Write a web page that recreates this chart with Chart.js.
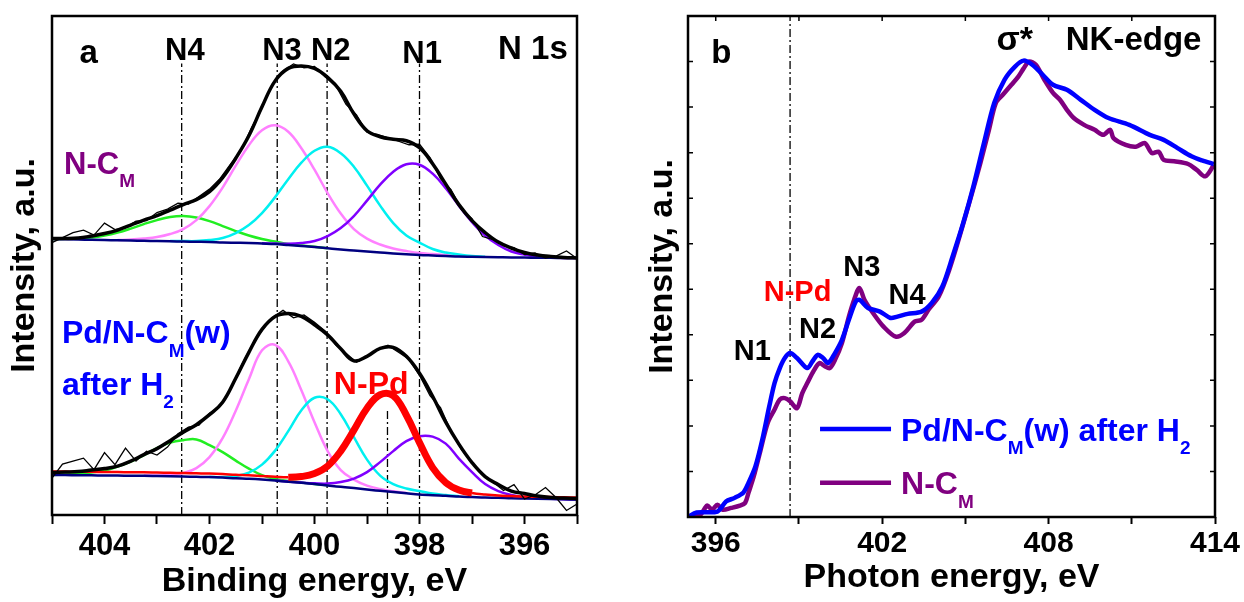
<!DOCTYPE html>
<html>
<head>
<meta charset="utf-8">
<title>N 1s XPS and N K-edge NEXAFS</title>
<script src="https://cdn.jsdelivr.net/npm/chart.js@4.4.1/dist/chart.umd.min.js"></script>
<style>
  html, body { margin: 0; padding: 0; background: #fff; }
  #wrap { position: relative; width: 1244px; height: 602px; }
  .panel { position: absolute; top: 0; height: 602px; width: 622px; }
  #panelA { left: 0; }
  #panelB { left: 622px; }
</style>
</head>
<body>
<div id="wrap">
  <div class="panel" id="panelA"><canvas id="xps"></canvas></div>
  <div class="panel" id="panelB"><canvas id="nexafs"></canvas></div>
</div>
<script>
"use strict";

// ---- panel a : N 1s XPS (binding energy, eV / intensity, a.u.) ----
const bindingGrid = [405, 404.75, 404.5, 404.25, 404, 403.75, 403.5, 403.25, 403, 402.75, 402.5, 402.25, 402, 401.75, 401.5, 401.25, 401, 400.75, 400.5, 400.25, 400, 399.75, 399.5, 399.25, 399, 398.75, 398.5, 398.25, 398, 397.75, 397.5, 397.25, 397, 396.75, 396.5, 396.25, 396, 395.75, 395.5, 395.25, 395];

// N-C_M (upper spectrum)
const ncmBackground = [55.3, 55.25, 55.2, 55.15, 55.1, 55.05, 55.0, 54.95, 54.9, 54.85, 54.8, 54.75, 54.7, 54.6, 54.55, 54.5, 54.4, 54.3, 54.1, 53.9, 53.7, 53.45, 53.2, 53.0, 52.8, 52.6, 52.4, 52.25, 52.1, 52.0, 51.9, 51.8, 51.75, 51.7, 51.65, 51.6, 51.6, 51.55, 51.55, 51.5, 51.5];
const ncmN4 = [55.3, 55.35, 55.4, 55.6, 56.0, 56.6, 57.4, 58.3, 59.1, 59.7, 59.9, 59.6, 58.9, 57.9, 56.9, 56.0, 55.3, 54.8, 54.3, 54.0, 53.75, 53.45, null, null, null, null, null, null, null, null, null, null, null, null, null, null, null, null, null, null, null];
const ncmN3 = [null, null, null, null, null, 55.1, 55.2, 55.4, 55.7, 56.3, 57.3, 59.1, 61.9, 65.6, 70.0, 74.1, 77.1, 78.1, 76.8, 73.5, 69.2, 64.5, 60.4, 57.3, 55.4, 54.2, 53.4, 52.9, 52.5, 52.3, 52.1, 51.9, 51.8, null, null, null, null, null, null, null, null];
const ncmN2 = [null, null, null, null, null, null, null, null, null, 54.9, 54.9, 54.9, 55.1, 55.5, 56.5, 58.1, 60.5, 63.7, 67.3, 70.6, 73.0, 73.8, 72.5, 69.8, 66.0, 62.0, 58.5, 56.0, 54.6, 53.3, 52.6, 52.2, 51.9, 51.75, null, null, null, null, null, null, null];
const ncmN1 = [null, null, null, null, null, null, null, null, null, null, null, null, null, null, null, null, 54.45, 54.4, 54.35, 54.5, 54.9, 55.9, 57.5, 59.9, 63.0, 66.2, 68.8, 70.3, 70.2, 68.4, 65.5, 62.0, 58.7, 56.0, 54.1, 52.8, 52.2, 51.8, 51.6, 51.5, 51.5];
const ncmEnvelope = [55.4, 55.4, 55.5, 55.9, 56.4, 57.1, 58.1, 59.1, 60.0, 61.1, 62.2, 63.2, 64.8, 67.6, 71.5, 76.0, 81.8, 87.0, 89.5, 90.0, 89.5, 87.7, 84.9, 80.4, 77.0, 75.8, 75.3, 75.0, 73.6, 70.4, 66.3, 62.2, 59.0, 56.6, 54.7, 53.5, 52.6, 52.1, 51.8, 51.6, 51.5];

// Pd/N-C_M(w) after H2 (lower spectrum)
const pdBackground = [8.0, 8.0, 7.95, 7.95, 7.9, 7.9, 7.85, 7.85, 7.8, 7.75, 7.7, 7.65, 7.6, 7.5, 7.35, 7.25, 7.1, 6.9, 6.65, 6.45, 6.2, 5.9, 5.65, 5.4, 5.1, 4.85, 4.6, 4.35, 4.1, 3.95, 3.85, 3.7, 3.6, 3.5, 3.45, 3.35, 3.3, 3.25, 3.2, 3.15, 3.1];
const pdN4 = [8.0, 8.1, 8.2, 8.5, 8.9, 9.7, 10.7, 12.0, 13.4, 14.5, 15.0, 15.15, 14.0, 12.6, 10.9, 9.3, 8.0, 7.2, 6.8, 6.5, 6.2, 5.95, null, null, null, null, null, null, null, null, null, null, null, null, null, null, null, null, null, null, null];
const pdN3 = [null, null, null, null, null, null, null, 7.9, 7.9, 8.0, 8.4, 9.4, 11.6, 15.4, 20.9, 27.2, 33.0, 34.1, 30.8, 25.0, 18.6, 12.8, 9.0, 7.1, 5.9, 5.2, 4.75, 4.4, null, null, null, null, null, null, null, null, null, null, null, null, null];
const pdN2 = [null, null, null, null, null, null, null, null, null, null, null, null, 7.6, 7.6, 7.8, 8.5, 10.1, 12.9, 16.8, 21.0, 23.5, 23.2, 20.2, 15.6, 11.1, 7.9, 6.2, 5.3, 4.8, 4.3, 4.0, 3.75, null, null, null, null, null, null, null, null, null];
const pdNPd = [8.7, 8.7, 8.65, 8.65, 8.6, 8.6, 8.55, 8.55, 8.5, 8.45, 8.4, 8.35, 8.3, 8.2, 8.05, 7.95, 7.8, 7.65, 7.55, 7.7, 8.3, 9.8, 12.8, 17.0, 21.4, 24.1, 23.9, 20.0, 14.5, 9.5, 6.5, 5.0, 4.4, 4.1, 3.9, 3.8, 3.7, 3.65, 3.6, 3.55, 3.5];
const pdN1 = [null, null, null, null, null, null, null, null, null, null, null, null, null, null, null, null, null, 6.9, 6.7, 6.5, 6.35, 6.3, 6.6, 7.3, 8.6, 10.6, 12.8, 14.8, 15.8, 15.7, 14.3, 11.3, 8.6, 6.2, 4.8, 4.0, 3.6, 3.4, 3.25, 3.15, 3.1];
const pdEnvelope = [8.5, 8.6, 8.7, 9.0, 9.3, 9.8, 10.8, 12.1, 13.3, 14.9, 16.6, 18.1, 20.1, 22.6, 27.4, 32.6, 37.2, 39.8, 40.4, 39.8, 38.1, 36.1, 33.3, 30.9, 31.8, 33.4, 33.6, 31.8, 28.4, 23.8, 18.6, 14.2, 10.5, 7.7, 6.1, 4.8, 4.3, 3.8, 3.5, 3.4, 3.3];

// measured (noisy) points
const rawGrid = [405, 404.8, 404.6, 404.4, 404.2, 404, 403.8, 403.6, 403.4, 403.2, 403, 402.8, 402.6, 402.4, 402.2, 402, 401.8, 401.6, 401.4, 401.2, 401, 400.8, 400.6, 400.4, 400.2, 400, 399.8, 399.6, 399.4, 399.2, 399, 398.8, 398.6, 398.4, 398.2, 398, 397.8, 397.6, 397.4, 397.2, 397, 396.8, 396.6, 396.4, 396.2, 396, 395.8, 395.6, 395.4, 395.2, 395];
const ncmRaw = [54.6, 55.6, 56.6, 57.1, 56.1, 58.5, 57.2, 57.6, 58.9, 59.0, 60.6, 61.3, 62.5, 62.3, 63.8, 65.3, 67.4, 70.3, 73.0, 77.6, 81.5, 86.4, 89.0, 90.4, 89.6, 89.9, 87.8, 86.2, 82.3, 80.2, 76.7, 76.3, 75.6, 74.9, 74.2, 74.3, 71.6, 67.4, 65.2, 61.2, 59.4, 55.8, 55.2, 54.0, 53.6, 52.2, 52.5, 51.5, 51.9, 52.9, 51.4];
const pdRaw = [7.4, 10.2, 10.8, 11.4, 9.1, 12.5, 10.1, 13.4, 10.8, 12.8, 12.0, 13.6, 16.3, 17.6, 18.0, 20.4, 21.8, 25.2, 29.8, 33.9, 37.0, 39.6, 41.0, 39.5, 40.1, 38.6, 36.9, 34.1, 32.4, 30.6, 31.7, 33.2, 34.0, 32.6, 31.2, 28.0, 23.9, 21.5, 16.8, 13.1, 10.4, 8.0, 6.6, 4.9, 6.1, 3.2, 4.0, 5.5, 3.5, 0.9, 2.2];

// N4, N3, N2, N1 positions and the N-Pd position
const peakLineEnergies = [402.53, 400.71, 399.76, 398.0];
const peakLineTop = 90.5;
const nPdLineEnergy = 398.61;
const nPdLineTop = 21.4;
// energy span where the N-Pd component is drawn thick
const nPdPeakSpan = [396.8, 400.5];

const bindingTicks = [405, 404, 403, 402, 401, 400, 399, 398, 397, 396, 395];
const bindingTickLabels = [404, 402, 400, 398, 396];

// ---- panel b : N K-edge (photon energy, eV / intensity, a.u.) ----
const pdH2Energy = [395.0, 395.31, 396.06, 396.37, 396.68, 397.0, 397.18, 397.43, 397.68, 397.93, 398.12, 398.31, 398.49, 398.68, 398.93, 399.3, 399.49, 399.68, 399.87, 400.05, 400.3, 400.55, 400.8, 401.05, 401.18, 401.49, 401.92, 402.3, 402.55, 402.92, 403.42, 403.79, 404.17, 404.54, 404.92, 405.29, 405.67, 406.04, 406.41, 406.79, 407.1, 407.41, 407.79, 408.16, 408.66, 409.16, 409.66, 410.16, 410.91, 411.65, 412.15, 412.65, 413.15, 413.53, 413.96];
const pdH2Intensity = [0.0, 0.1, 0.12, 0.34, 0.42, 0.54, 0.75, 1.11, 1.7, 2.43, 2.94, 3.27, 3.49, 3.6, 3.49, 3.27, 3.42, 3.56, 3.49, 3.38, 3.6, 3.89, 4.33, 4.73, 4.77, 4.59, 4.51, 4.37, 4.4, 4.46, 4.51, 4.7, 5.06, 5.72, 6.45, 7.26, 8.21, 9.09, 9.6, 9.89, 10.02, 9.93, 9.71, 9.49, 9.38, 9.16, 8.94, 8.76, 8.61, 8.39, 8.28, 8.1, 7.92, 7.83, 7.75];
const ncmEnergy = [395.0, 395.44, 395.69, 395.87, 396.06, 396.25, 396.56, 396.87, 397.06, 397.18, 397.37, 397.62, 397.87, 398.12, 398.31, 398.49, 398.68, 398.93, 399.12, 399.3, 399.55, 399.74, 399.93, 400.11, 400.3, 400.55, 400.8, 400.99, 401.18, 401.36, 401.67, 402.05, 402.49, 402.8, 403.17, 403.42, 403.67, 404.04, 404.42, 404.79, 405.17, 405.54, 405.85, 406.1, 406.35, 406.66, 406.91, 407.1, 407.29, 407.54, 407.85, 408.16, 408.41, 408.66, 408.91, 409.28, 409.66, 409.97, 410.22, 410.34, 410.78, 411.15, 411.47, 411.72, 411.97, 412.15, 412.53, 413.03, 413.34, 413.65, 413.96];
const ncmIntensity = [0.0, 0.05, 0.25, 0.16, 0.27, 0.16, 0.2, 0.25, 0.31, 0.53, 0.89, 1.48, 2.06, 2.36, 2.58, 2.61, 2.54, 2.39, 2.72, 2.94, 3.23, 3.38, 3.31, 3.27, 3.45, 3.82, 4.4, 4.77, 5.03, 4.77, 4.48, 4.18, 3.96, 4.04, 4.29, 4.33, 4.55, 4.84, 5.43, 6.16, 6.96, 7.77, 8.5, 9.09, 9.27, 9.49, 9.67, 9.85, 10.0, 9.93, 9.6, 9.31, 9.16, 8.94, 8.76, 8.61, 8.5, 8.39, 8.5, 8.32, 8.17, 8.13, 8.21, 7.99, 8.02, 7.84, 7.81, 7.75, 7.62, 7.48, 7.73];

const nPdPhotonEnergy = 398.68;
const photonTicks = [396, 399, 402, 405, 408, 411, 414];
const photonTickLabels = [396, 402, 408, 414];
const nexafsYTicks = [0, 1, 2, 3, 4, 5, 6, 7, 8, 9, 10, 11];

// ---- styling ----
const FONT = '"Liberation Sans", Arial, Helvetica, sans-serif';
Chart.defaults.font.family = FONT;
Chart.defaults.font.weight = 'bold';
Chart.defaults.color = '#000';

const xpsNotes = [
  { segs: [{ t: 'a' }], x: 404.3, y: 93.0, size: 33, color: '#000', align: 'center' },
  { segs: [{ t: 'N4' }], x: 402.47, y: 93.4, size: 31, color: '#000', align: 'center' },
  { segs: [{ t: 'N3' }], x: 400.62, y: 93.4, size: 31, color: '#000', align: 'center' },
  { segs: [{ t: 'N2' }], x: 399.69, y: 93.4, size: 31, color: '#000', align: 'center' },
  { segs: [{ t: 'N1' }], x: 397.95, y: 92.8, size: 31, color: '#000', align: 'center' },
  { segs: [{ t: 'N 1s' }], x: 395.84, y: 93.8, size: 33, color: '#000', align: 'center' },
  { segs: [{ t: 'N-C' }, { t: 'M', sub: true }], x: 404.77, y: 70.6, size: 31, color: '#800080', align: 'left' },
  { segs: [{ t: 'Pd/N-C' }, { t: 'M', sub: true }, { t: '(w)' }], x: 404.81, y: 36.7, size: 32, color: '#0000ff', align: 'left' },
  { segs: [{ t: 'after H' }, { t: '2', sub: true }], x: 404.81, y: 26.4, size: 32, color: '#0000ff', align: 'left' },
  { segs: [{ t: 'N-Pd' }], x: 398.92, y: 26.5, size: 32, color: '#ff0000', align: 'center' }
];

const nexafsNotes = [
  { segs: [{ t: 'b' }], x: 396.2, y: 10.23, size: 33, color: '#000', align: 'center' },
  { segs: [{ t: 'σ*' }], x: 406.78, y: 10.52, size: 34, color: '#000', align: 'center' },
  { segs: [{ t: 'NK-edge' }], x: 408.62, y: 10.52, size: 33, color: '#000', align: 'left' },
  { segs: [{ t: 'N3' }], x: 401.27, y: 5.51, size: 29, color: '#000', align: 'center' },
  { segs: [{ t: 'N-Pd' }], x: 398.95, y: 4.98, size: 29, color: '#ff0000', align: 'center' },
  { segs: [{ t: 'N4' }], x: 402.9, y: 4.9, size: 29, color: '#000', align: 'center' },
  { segs: [{ t: 'N2' }], x: 399.67, y: 4.17, size: 29, color: '#000', align: 'center' },
  { segs: [{ t: 'N1' }], x: 397.32, y: 3.67, size: 29, color: '#000', align: 'center' }
];

const nexafsLegend = [
  { segs: [{ t: 'Pd/N-C' }, { t: 'M', sub: true }, { t: '(w) after H' }, { t: '2', sub: true }], color: '#0000ff', y: 1.93 },
  { segs: [{ t: 'N-C' }, { t: 'M', sub: true }], color: '#800080', y: 0.75 }
];
const legendLineFrom = 399.76;
const legendLineTo = 402.32;
const legendTextAt = 402.68;

// y is the pixel of the capital-letter centre
function drawRich(ctx, segs, x, y, size, color, align) {
  const base = y + size * 0.36;
  const parts = segs.map(s => {
    const fs = s.sub ? Math.round(size * 0.6) : size;
    ctx.font = `bold ${fs}px ${FONT}`;
    return { t: s.t, fs: fs, sub: s.sub, w: ctx.measureText(s.t).width };
  });
  const total = parts.reduce((n, p) => n + p.w, 0);
  let cx = align === 'center' ? x - total / 2 : x;
  ctx.fillStyle = color;
  ctx.textAlign = 'left';
  ctx.textBaseline = 'alphabetic';
  parts.forEach(p => {
    ctx.font = `bold ${p.fs}px ${FONT}`;
    ctx.fillText(p.t, cx, p.sub ? base + size * 0.42 : base);
    cx += p.w;
  });
}

const framePlugin = {
  id: 'frame',
  afterDraw(chart, args, opts) {
    const { ctx, chartArea: a, scales } = chart;
    ctx.save();
    ctx.strokeStyle = '#000';
    ctx.lineWidth = 2.5;
    ctx.strokeRect(a.left, a.top, a.right - a.left, a.bottom - a.top);
    if (opts.innerY) {
      ctx.lineWidth = 1.5;
      ctx.beginPath();
      opts.innerY.forEach(v => {
        const py = scales.y.getPixelForValue(v);
        ctx.moveTo(a.left, py); ctx.lineTo(a.left + 5, py);
        ctx.moveTo(a.right, py); ctx.lineTo(a.right - 5, py);
      });
      (opts.innerX || []).forEach(v => {
        const px = scales.x.getPixelForValue(v);
        ctx.moveTo(px, a.top); ctx.lineTo(px, a.top + 5);
      });
      ctx.stroke();
    }
    ctx.restore();
  }
};

const notesPlugin = {
  id: 'notes',
  afterDraw(chart, args, opts) {
    const { ctx, scales } = chart;
    ctx.save();
    (opts.items || []).forEach(n => {
      drawRich(ctx, n.segs, scales.x.getPixelForValue(n.x), scales.y.getPixelForValue(n.y), n.size, n.color, n.align);
    });
    (opts.legend || []).forEach(item => {
      const py = scales.y.getPixelForValue(item.y);
      ctx.strokeStyle = item.color;
      ctx.lineWidth = 4.5;
      ctx.beginPath();
      ctx.moveTo(scales.x.getPixelForValue(legendLineFrom), py);
      ctx.lineTo(scales.x.getPixelForValue(legendLineTo), py);
      ctx.stroke();
      drawRich(ctx, item.segs, scales.x.getPixelForValue(legendTextAt), py, 32, item.color, 'left');
    });
    ctx.restore();
  }
};

function series(xs, ys, color, width, extra) {
  return Object.assign({
    data: xs.map((x, i) => ({ x: x, y: ys[i] })),
    borderColor: color,
    borderWidth: width,
    pointRadius: 0,
    fill: false,
    spanGaps: false,
    tension: 0.4
  }, extra || {});
}

function dashLine(energy, top) {
  return {
    data: [{ x: energy, y: 0 }, { x: energy, y: top }],
    borderColor: '#000',
    borderWidth: 1.3,
    borderDash: [8, 3, 2, 3],
    pointRadius: 0,
    fill: false
  };
}

const GREEN = '#22ee22';
const PINK = '#ff80ff';
const CYAN = '#00f0f0';
const VIOLET = '#8000ff';
const NAVY = '#000080';

const inNPdPeak = ctx => {
  const lo = Math.min(ctx.p0.parsed.x, ctx.p1.parsed.x);
  const hi = Math.max(ctx.p0.parsed.x, ctx.p1.parsed.x);
  return lo >= nPdPeakSpan[0] && hi <= nPdPeakSpan[1] ? 7 : 2.5;
};

// datasets listed first are drawn on top
const xpsDatasets = [
  series(bindingGrid, ncmEnvelope, '#000', 3.5),
  series(bindingGrid, pdEnvelope, '#000', 3.5),
  series(rawGrid, ncmRaw, '#000', 1.3, { tension: 0 }),
  series(rawGrid, pdRaw, '#000', 1.3, { tension: 0 }),
  series(bindingGrid, pdNPd, '#ff0000', 7, { segment: { borderWidth: inNPdPeak } }),
  series(bindingGrid, ncmBackground, NAVY, 2.5, { cubicInterpolationMode: 'monotone' }),
  series(bindingGrid, pdBackground, NAVY, 2.5, { cubicInterpolationMode: 'monotone' }),
  series(bindingGrid, ncmN1, VIOLET, 2.5),
  series(bindingGrid, pdN1, VIOLET, 2.5),
  series(bindingGrid, ncmN2, CYAN, 2.5),
  series(bindingGrid, pdN2, CYAN, 2.5),
  series(bindingGrid, ncmN3, PINK, 2.5),
  series(bindingGrid, pdN3, PINK, 2.5),
  series(bindingGrid, ncmN4, GREEN, 2.5),
  series(bindingGrid, pdN4, GREEN, 2.5)
].concat(peakLineEnergies.map(e => dashLine(e, peakLineTop)), [dashLine(nPdLineEnergy, nPdLineTop)]);

new Chart(document.getElementById('xps'), {
  type: 'line',
  data: { datasets: xpsDatasets },
  plugins: [framePlugin, notesPlugin],
  options: {
    responsive: true,
    maintainAspectRatio: false,
    animation: false,
    devicePixelRatio: 1,
    layout: { padding: { top: 16, right: 45, left: 0, bottom: 0 } },
    plugins: {
      legend: { display: false },
      tooltip: { enabled: false },
      notes: { items: xpsNotes },
      frame: {}
    },
    scales: {
      x: {
        type: 'linear',
        reverse: true,
        min: 395,
        max: 405,
        afterBuildTicks: s => { s.ticks = bindingTicks.map(v => ({ value: v })); },
        afterFit: s => { s.height = 87; },
        ticks: {
          autoSkip: false,
          maxRotation: 0,
          padding: 4,
          color: '#000',
          font: { size: 31, weight: 'bold' },
          callback: v => bindingTickLabels.includes(v) ? String(v) : ''
        },
        grid: { drawOnChartArea: false, drawTicks: true, tickLength: 9, tickWidth: 2, tickColor: '#000' },
        border: { display: false },
        title: { display: true, text: 'Binding energy, eV', color: '#000', font: { size: 34, weight: 'bold' }, padding: { top: 0, bottom: 0 } }
      },
      y: {
        type: 'linear',
        min: 0,
        max: 100,
        afterFit: s => { s.width = 52; },
        ticks: { display: false },
        grid: { display: false },
        border: { display: false },
        title: { display: true, text: 'Intensity, a.u.', color: '#000', font: { size: 34, weight: 'bold' }, padding: { top: 4, bottom: 0 } }
      }
    }
  }
});

new Chart(document.getElementById('nexafs'), {
  type: 'line',
  data: {
    datasets: [
      series(pdH2Energy, pdH2Intensity, '#0000ff', 4.5, { tension: 0.3 }),
      series(ncmEnergy, ncmIntensity, '#800080', 4.5, { tension: 0.3 }),
      dashLine(nPdPhotonEnergy, 11)
    ]
  },
  plugins: [framePlugin, notesPlugin],
  options: {
    responsive: true,
    maintainAspectRatio: false,
    animation: false,
    devicePixelRatio: 1,
    layout: { padding: { top: 16, right: 29, left: 0, bottom: 0 } },
    plugins: {
      legend: { display: false },
      tooltip: { enabled: false },
      notes: { items: nexafsNotes, legend: nexafsLegend },
      frame: { innerY: nexafsYTicks, innerX: photonTicks }
    },
    scales: {
      x: {
        type: 'linear',
        min: 395,
        max: 414,
        afterBuildTicks: s => { s.ticks = photonTicks.map(v => ({ value: v })); },
        afterFit: s => { s.height = 85; },
        ticks: {
          autoSkip: false,
          maxRotation: 0,
          padding: 2,
          color: '#000',
          font: { size: 30, weight: 'bold' },
          callback: v => photonTickLabels.includes(v) ? String(v) : ''
        },
        grid: { drawOnChartArea: false, drawTicks: true, tickLength: 7, tickWidth: 2, tickColor: '#000' },
        border: { display: false },
        title: { display: true, text: 'Photon energy, eV', color: '#000', font: { size: 34, weight: 'bold' }, padding: { top: 0, bottom: 4 } }
      },
      y: {
        type: 'linear',
        min: 0,
        max: 11,
        afterFit: s => { s.width = 66; },
        ticks: { display: false },
        grid: { display: false },
        border: { display: false },
        title: { display: true, text: 'Intensity, a.u.', color: '#000', font: { size: 34, weight: 'bold' }, padding: { top: 20.6, bottom: 0 } }
      }
    }
  }
});
</script>
</body>
</html>
